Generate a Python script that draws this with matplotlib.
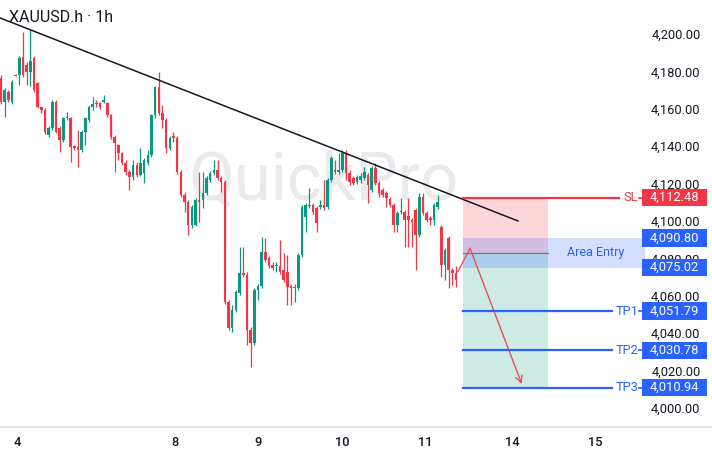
import matplotlib
matplotlib.use("Agg")
import matplotlib.pyplot as plt
from matplotlib.patches import Rectangle
import numpy as np

plt.rcParams['font.family'] = ['Roboto', 'DejaVu Sans']

# ---------------- data ----------------
opens = [4176.5, 4163.6, 4169.0, 4163.6, 4178.1, 4178.1, 4187.7, 4183.4, 4179.7, 4187.2,
         4173.8, 4161.0, 4159.4, 4146.0, 4149.7, 4163.6, 4149.7, 4143.3, 4155.1, 4155.1,
         4140.1, 4139.6, 4138.0, 4147.6, 4154.0, 4161.0, 4163.1, 4163.1, 4163.6, 4163.1,
         4156.7, 4144.9, 4140.6, 4136.4, 4131.0, 4126.2, 4123.5, 4130.0, 4124.6, 4125.7,
         4131.0, 4135.3, 4156.7, 4171.7, 4157.8, 4154.0, 4139.0, 4145.5, 4144.4, 4126.2,
         4113.9, 4110.2, 4097.9, 4097.9, 4111.2, 4111.2, 4115.0, 4121.9, 4125.7, 4127.3,
         4123.0, 4120.9, 4056.7, 4042.8, 4052.4, 4061.5, 4072.2, 4071.1, 4041.7, 4034.8,
         4063.1, 4065.2, 4083.4, 4080.2, 4076.5, 4075.9, 4075.9, 4073.8, 4072.7, 4065.2,
         4064.2, 4064.2, 4081.8, 4102.1, 4108.0, 4108.6, 4107.0, 4107.5, 4108.6, 4107.5,
         4121.9, 4127.3, 4126.2, 4127.3, 4136.4, 4125.7, 4123.0, 4120.9, 4121.9, 4123.0,
         4124.6, 4116.6, 4128.3, 4120.3, 4116.6, 4115.0, 4111.8, 4108.6, 4097.9, 4104.8,
         4104.8, 4102.7, 4100.5, 4105.9, 4092.5, 4112.8, 4104.3, 4101.6, 4100.5, 4107.5,
         4096.8, 4076.5, 4090.9, 4073.8, 4072.2]
highs = [4178.1, 4171.1, 4170.1, 4175.4, 4178.6, 4188.2, 4201.1, 4185.0, 4202.1, 4188.2,
         4174.3, 4161.5, 4160.4, 4150.8, 4164.7, 4164.7, 4150.8, 4155.6, 4158.3, 4155.6,
         4140.6, 4148.7, 4148.7, 4155.6, 4162.0, 4166.3, 4164.7, 4163.6, 4167.4, 4163.6,
         4157.2, 4146.0, 4141.2, 4136.9, 4132.6, 4127.3, 4132.6, 4131.6, 4139.0, 4133.7,
         4138.0, 4157.2, 4172.2, 4179.7, 4162.0, 4155.1, 4145.5, 4147.6, 4145.5, 4127.3,
         4115.5, 4111.2, 4108.6, 4112.3, 4126.2, 4126.2, 4124.1, 4126.7, 4132.6, 4132.6,
         4124.1, 4121.9, 4057.8, 4055.1, 4063.1, 4086.1, 4086.1, 4072.7, 4043.3, 4064.2,
         4066.3, 4091.4, 4090.9, 4081.3, 4078.1, 4078.1, 4089.8, 4082.9, 4081.8, 4066.3,
         4066.3, 4082.9, 4108.6, 4109.6, 4117.6, 4109.6, 4108.0, 4111.2, 4121.9, 4123.0,
         4134.8, 4132.6, 4136.4, 4138.0, 4138.0, 4127.3, 4124.1, 4124.6, 4125.7, 4128.9,
         4125.7, 4129.4, 4131.0, 4121.4, 4117.6, 4116.0, 4112.8, 4109.6, 4105.3, 4112.3,
         4105.9, 4112.3, 4101.6, 4107.0, 4115.0, 4115.0, 4105.3, 4102.7, 4109.6, 4113.9,
         4097.9, 4085.6, 4092.0, 4074.9, 4075.9]
lows = [4162.6, 4155.6, 4163.6, 4162.6, 4177.5, 4172.7, 4177.0, 4172.7, 4172.2, 4169.0,
        4160.4, 4157.8, 4146.5, 4144.9, 4148.7, 4147.1, 4136.9, 4142.2, 4154.0, 4131.6,
        4138.0, 4128.9, 4136.9, 4140.6, 4152.9, 4159.4, 4161.0, 4159.9, 4163.1, 4155.6,
        4143.9, 4126.2, 4132.6, 4130.0, 4124.6, 4116.6, 4121.9, 4123.5, 4124.1, 4120.3,
        4130.0, 4134.2, 4155.1, 4156.7, 4149.7, 4136.4, 4138.0, 4142.2, 4125.1, 4112.8,
        4104.8, 4092.5, 4096.3, 4097.3, 4099.5, 4107.0, 4113.9, 4120.9, 4124.6, 4121.9,
        4115.5, 4055.6, 4041.7, 4040.6, 4051.3, 4060.4, 4070.1, 4033.7, 4021.9, 4033.7,
        4057.8, 4064.2, 4078.1, 4074.9, 4073.8, 4072.7, 4071.7, 4067.4, 4055.1, 4055.1,
        4056.7, 4063.1, 4080.7, 4094.1, 4107.0, 4103.7, 4094.1, 4106.4, 4105.9, 4106.4,
        4120.9, 4125.1, 4125.1, 4126.2, 4121.9, 4119.3, 4119.3, 4119.8, 4120.3, 4121.9,
        4109.6, 4115.5, 4119.3, 4112.8, 4112.8, 4107.5, 4107.5, 4094.1, 4094.1, 4103.7,
        4086.1, 4086.1, 4086.1, 4073.8, 4091.4, 4103.2, 4099.5, 4097.9, 4097.9, 4106.4,
        4070.1, 4068.4, 4064.2, 4065.8, 4064.7]
closes = [4163.6, 4170.1, 4164.7, 4174.3, 4177.8, 4187.2, 4178.1, 4179.7, 4185.6, 4170.1,
          4161.0, 4159.4, 4147.6, 4149.7, 4163.6, 4147.6, 4143.3, 4155.1, 4155.6, 4139.6,
          4139.0, 4138.0, 4147.6, 4155.1, 4161.0, 4162.6, 4162.6, 4161.0, 4164.7, 4156.7,
          4144.9, 4141.7, 4136.4, 4131.0, 4126.2, 4123.5, 4130.0, 4124.6, 4131.0, 4132.6,
          4135.3, 4156.7, 4171.7, 4157.8, 4154.0, 4139.0, 4144.4, 4144.4, 4126.2, 4113.9,
          4110.2, 4097.9, 4107.5, 4111.2, 4110.2, 4115.0, 4123.0, 4125.7, 4127.3, 4123.0,
          4120.9, 4056.7, 4042.8, 4052.4, 4062.0, 4072.2, 4071.1, 4041.7, 4034.8, 4063.1,
          4065.2, 4083.4, 4079.1, 4075.9, 4074.9, 4076.5, 4072.7, 4068.4, 4064.7, 4064.2,
          4064.7, 4081.8, 4107.5, 4108.6, 4108.6, 4104.8, 4098.9, 4108.6, 4107.0, 4121.9,
          4133.7, 4126.2, 4127.3, 4136.4, 4125.7, 4120.9, 4120.3, 4123.5, 4124.1, 4126.2,
          4119.3, 4128.3, 4120.3, 4115.0, 4113.9, 4112.3, 4108.6, 4097.9, 4104.3, 4105.3,
          4100.5, 4100.5, 4099.5, 4092.5, 4112.8, 4104.3, 4100.5, 4100.5, 4108.6, 4110.2,
          4076.5, 4084.5, 4073.8, 4072.2, 4068.4]

day_labels = ['4', '8', '9', '10', '11', '14', '15']
day_positions = [5.4, 48.4, 71.0, 93.9, 116.5, 140.2, 162.9]   # in candle index units
price_ticks = [4000, 4020, 4040, 4060, 4080, 4100, 4120, 4140, 4160, 4180, 4200]

symbol_title = 'XAUUSD.h · 1h'
watermark = 'QuickPro'

trend_x = [0.73, 141.9]
trend_y = [4208.6, 4100.0]

stop_loss = 4112.48
entry_high = 4090.80
entry_low = 4075.02
entry_price = 4083.0
take_profits = [4051.79, 4030.78, 4010.94]
tp_names = ['TP1', 'TP2', 'TP3']
position_start = 126.8
position_end = 150.0
projection_x = [125.5, 128.8, 142.9]
projection_y = [4072.9, 4085.4, 4012.8]

# ---------------- styling ----------------
GREEN = '#089981'
RED = '#f23645'
BLUE = '#2962ff'
TEXT = '#131722'

W, H = 712, 455
AX_H = 427
fig = plt.figure(figsize=(W / 100, H / 100), dpi=100)
fig.patch.set_facecolor('white')
ax = fig.add_axes([0, (H - AX_H) / H, 1, AX_H / H])

X0, X1 = 0.7275, 194.73
Y0, Y1 = 3989.84, 4218.18
ax.set_xlim(X0, X1)
ax.set_ylim(Y0, Y1)


def px2x(px):
    return X0 + px / W * (X1 - X0)


def px_h(px):
    return px / AX_H * (Y1 - Y0)


# watermark
ax.text(323 / W, 1 - 181 / AX_H, watermark, transform=ax.transAxes, fontsize=48,
        color='#eaeaed', ha='center', va='center', zorder=0)

# candles
o = np.array(opens); h = np.array(highs); l = np.array(lows); c = np.array(closes)
idx = np.arange(1, len(o) + 1)
cols = np.where(c >= o, GREEN, RED)
ax.vlines(idx, l, h, colors=cols, lw=0.9, zorder=3)
bottom = np.minimum(o, c)
height = np.maximum(np.abs(c - o), 0.5)
ax.bar(idx, height, width=0.7, bottom=bottom, color=cols, linewidth=0, zorder=4)

# position tool zones
pw = position_end - position_start
ax.add_patch(Rectangle((position_start, entry_price), pw, stop_loss - entry_price,
                       facecolor=RED, alpha=0.2, lw=0, zorder=1))
ax.add_patch(Rectangle((position_start, take_profits[-1]), pw, entry_price - take_profits[-1],
                       facecolor=GREEN, alpha=0.2, lw=0, zorder=1))
ax.add_patch(Rectangle((position_start, entry_low), px2x(645) - position_start,
                       entry_high - entry_low, facecolor=BLUE, alpha=0.2, lw=0, zorder=2))
ax.plot([position_start, position_end], [entry_price] * 2, color='#787b86', lw=0.9, zorder=3)
ax.text(px2x(596), (entry_high + entry_low) / 2, 'Area Entry', color=BLUE, fontsize=9,
        ha='center', va='center', zorder=6)

# trend line
ax.plot(trend_x, trend_y, color=TEXT, lw=1.1, zorder=5, solid_capstyle='round')

# projection arrow
ax.plot(projection_x[:2], projection_y[:2], color='#e8505b', lw=1.0, zorder=5)
ax.annotate('', xy=(projection_x[2], projection_y[2]), xytext=(projection_x[1], projection_y[1]),
            arrowprops=dict(arrowstyle='->', color='#e8505b', lw=1.0, mutation_scale=12,
                            shrinkA=0, shrinkB=0), zorder=5)


def price_box(price, color):
    bh = px_h(17.5)
    ax.add_patch(Rectangle((px2x(642), price - bh / 2), px2x(707) - px2x(642), bh,
                           facecolor=color, lw=0, zorder=7))
    ax.text(px2x(674.5), price, f'{price:,.2f}', color='white', fontsize=9.3,
            ha='center', va='center', zorder=8)


# stop loss line
ax.plot([position_start, px2x(619)], [stop_loss] * 2, color=RED, lw=1.6, zorder=5)
ax.text(px2x(631), stop_loss, 'SL', color=RED, fontsize=9.3, ha='center', va='center', zorder=6)
ax.plot([px2x(639), px2x(644)], [stop_loss] * 2, color=RED, lw=1.2, zorder=5)
price_box(stop_loss, RED)

# take profits
for name, tp in zip(tp_names, take_profits):
    ax.plot([position_start, px2x(612)], [tp] * 2, color=BLUE, lw=1.6, zorder=5)
    ax.text(px2x(627), tp, name, color=BLUE, fontsize=9.3, ha='center', va='center', zorder=6)
    ax.plot([px2x(639), px2x(644)], [tp] * 2, color=BLUE, lw=1.2, zorder=5)
    price_box(tp, BLUE)

price_box(entry_high, BLUE)
price_box(entry_low, BLUE)

# title
ax.text(9 / W, 1 - 17 / AX_H, symbol_title, transform=ax.transAxes, fontsize=11.5,
        color=TEXT, ha='left', va='center', zorder=9)

# axes
ax.yaxis.tick_right()
ax.set_yticks(price_ticks, labels=[f'{p:,.2f}' for p in price_ticks])
ax.tick_params(axis='y', length=0, pad=-8.3, labelsize=9.3, labelcolor=TEXT)
plt.setp(ax.get_yticklabels(), ha='right')
ax.set_xticks(day_positions, labels=day_labels)
ax.tick_params(axis='x', length=0, pad=6.5, labelsize=9.3, labelcolor=TEXT)
for lbl in ax.get_xticklabels():
    lbl.set_fontweight('medium')
for s in ['top', 'left', 'right']:
    ax.spines[s].set_visible(False)
ax.spines['bottom'].set_color('#e0e3eb')
ax.spines['bottom'].set_linewidth(1.4)

fig.savefig('out.png', dpi=100, facecolor='white')
